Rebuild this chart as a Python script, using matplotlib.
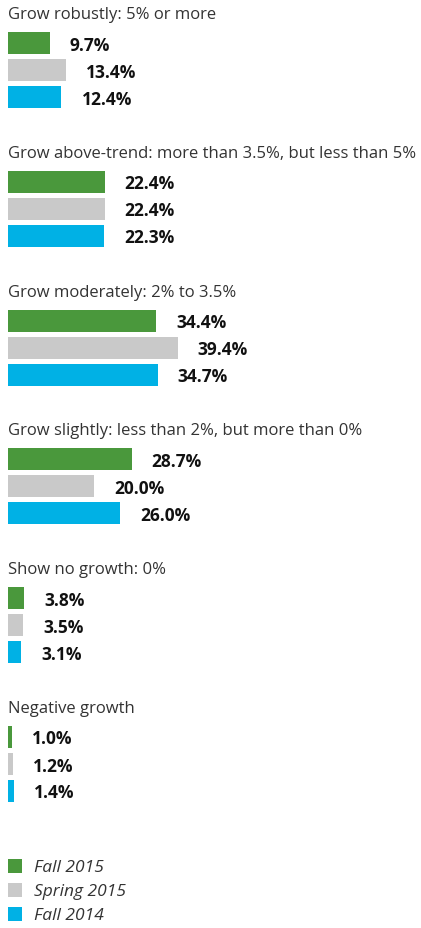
import numpy as np
import matplotlib.pyplot as plt
import matplotlib as mpl

mpl.rcParams['font.family'] = ['Open Sans', 'DejaVu Sans']

categories = [
    'Grow robustly: 5% or more',
    'Grow above-trend: more than 3.5%, but less than 5%',
    'Grow moderately: 2% to 3.5%',
    'Grow slightly: less than 2%, but more than 0%',
    'Show no growth: 0%',
    'Negative growth',
]
series = ['Fall 2015', 'Spring 2015', 'Fall 2014']
fall_2015 = [9.7, 22.4, 34.4, 28.7, 3.8, 1.0]
spring_2015 = [13.4, 22.4, 39.4, 20.0, 3.5, 1.2]
fall_2014 = [12.4, 22.3, 34.7, 26.0, 3.1, 1.4]
colors = ['#4a983c', '#c9c9c9', '#00b1e5']

W, H = 421, 929
fig = plt.figure(figsize=(W / 100, H / 100), dpi=100)
ax = fig.add_axes([0, 0, 1, 1])
ppu = 4.31  # pixels per percentage point
x0 = 8
ax.set_xlim(-x0 / ppu, (W - x0) / ppu)
ax.set_ylim(H, 0)
ax.axis('off')

values = [fall_2015, spring_2015, fall_2014]
group_gap = 138.8
for g, cat in enumerate(categories):
    ty = 15 + g * group_gap
    ax.text(0, ty, cat, fontsize=12, color='#333333', va='center', ha='left')
    for s in range(3):
        v = values[s][g]
        yc = ty + 29 + s * 27
        ax.barh(yc, v, height=22, left=0, color=colors[s])
        ax.text(v + 20 / ppu, yc + 1.5, f'{v:.1f}%', fontsize=12.5, fontweight='bold',
                color='#111111', va='center', ha='left')

# legend
for s, name in enumerate(series):
    yc = 867 + s * 24
    ax.barh(yc, 14 / ppu, height=14, left=0, color=colors[s])
    ax.text(26 / ppu, yc + 1, name, fontsize=12.5, style='italic', color='#333333',
            va='center', ha='left')

fig.savefig('out.png', dpi=100)
